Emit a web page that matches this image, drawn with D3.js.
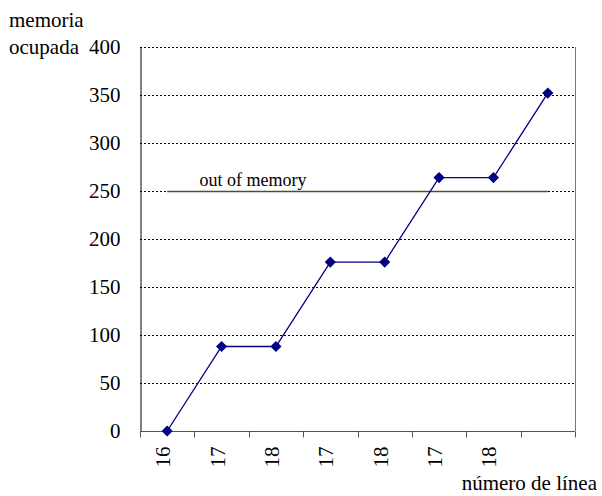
<!DOCTYPE html>
<html>
<head>
<meta charset="utf-8">
<script src="https://cdn.jsdelivr.net/npm/d3@7"></script>
<style>
  body { margin: 0; background: #fff; }
  svg text { font-family: "Liberation Serif", "Times New Roman", serif !important; fill: #000; }
</style>
</head>
<body>
<div id="chart"></div>
<script>
/* DATA */
const categories = ["16", "17", "18", "17", "18", "17", "18", ""];
const memoria = [0, 88, 88, 176, 176, 264, 264, 352];
const limite = 250;
const yTicks = [0, 50, 100, 150, 200, 250, 300, 350, 400];

/* CONSTANTS */
const width = 602, height = 496;
const margin = { top: 47, bottom: 65, left: 140, right: 27 };
const fs = 21;

const svg = d3.select("#chart").append("svg")
  .attr("width", width)
  .attr("height", height);

// scales
const xScale = d3.scaleBand()
  .domain(d3.range(categories.length))
  .range([margin.left, width - margin.right]);

const yScale = d3.scaleLinear()
  .domain([0, 400])
  .range([height - margin.bottom, margin.top]);

// gridlines
svg.append("g")
  .selectAll("line")
  .data(yTicks.filter(d => d > 0))
  .join("line")
  .attr("x1", margin.left)
  .attr("x2", width - margin.right)
  .attr("y1", d => yScale(d) + 0.5)
  .attr("y2", d => yScale(d) + 0.5)
  .attr("stroke", "#000")
  .attr("stroke-width", 1)
  .attr("stroke-dasharray", "2,2");

// right border
svg.append("line")
  .attr("x1", width - margin.right + 0.5)
  .attr("x2", width - margin.right + 0.5)
  .attr("y1", margin.top)
  .attr("y2", height - margin.bottom)
  .attr("stroke", "#777");

// y axis
const yAxis = svg.append("g")
  .attr("transform", `translate(${margin.left + 0.5},0)`)
  .call(d3.axisLeft(yScale).tickValues(yTicks).tickSize(0).tickPadding(20));
yAxis.attr("font-family", "Liberation Serif, serif").attr("font-size", fs);
yAxis.select(".domain").attr("stroke", "#000");
yAxis.selectAll("text")
  .attr("font-size", fs)
  .attr("fill", "#000");

// x axis: ticks at band boundaries
const xg = svg.append("g")
  .attr("transform", `translate(0,${yScale(0) + 0.5})`);
xg.append("line")
  .attr("x1", margin.left)
  .attr("x2", width - margin.right)
  .attr("stroke", "#555");
xg.selectAll("line.tick")
  .data(d3.range(categories.length + 1))
  .join("line")
  .attr("class", "tick")
  .attr("x1", i => Math.round(margin.left + i * xScale.step()) + 0.5)
  .attr("x2", i => Math.round(margin.left + i * xScale.step()) + 0.5)
  .attr("y1", 0)
  .attr("y2", 6)
  .attr("stroke", "#555");
xg.selectAll("text")
  .data(categories)
  .join("text")
  .attr("transform", (d, i) => `translate(${xScale(i) + xScale.bandwidth() / 2 + 3},15) rotate(-90)`)
  .attr("text-anchor", "end")
  .attr("font-size", fs)
  .text(d => d);

// out of memory line
const cx = i => xScale(i) + xScale.bandwidth() / 2;
svg.append("line")
  .attr("x1", cx(0))
  .attr("x2", cx(categories.length - 1))
  .attr("y1", yScale(limite) + 0.5)
  .attr("y2", yScale(limite) + 0.5)
  .attr("stroke", "#4b5320")
  .attr("stroke-width", 1.5);
svg.append("text")
  .attr("x", 253)
  .attr("y", yScale(limite) - 5)
  .attr("text-anchor", "middle")
  .attr("font-size", 18)
  .text("out of memory");

// series line
const lineFn = d3.line()
  .x((d, i) => cx(i))
  .y(d => yScale(d));
svg.append("path")
  .datum(memoria)
  .attr("fill", "none")
  .attr("stroke", "#000080")
  .attr("stroke-width", 1.3)
  .attr("d", lineFn);

svg.selectAll("path.marker")
  .data(memoria)
  .join("path")
  .attr("class", "marker")
  .attr("d", d3.symbol(d3.symbolDiamond2, 80))
  .attr("transform", (d, i) => `translate(${cx(i)},${yScale(d)})`)
  .attr("fill", "#000080");

// axis titles
svg.append("text")
  .attr("x", 9).attr("y", 27)
  .attr("font-size", fs)
  .text("memoria");
svg.append("text")
  .attr("x", 9).attr("y", 54)
  .attr("font-size", fs)
  .text("ocupada");
svg.append("text")
  .attr("x", 597).attr("y", 490)
  .attr("text-anchor", "end")
  .attr("font-size", fs)
  .text("número de línea");
</script>
</body>
</html>
